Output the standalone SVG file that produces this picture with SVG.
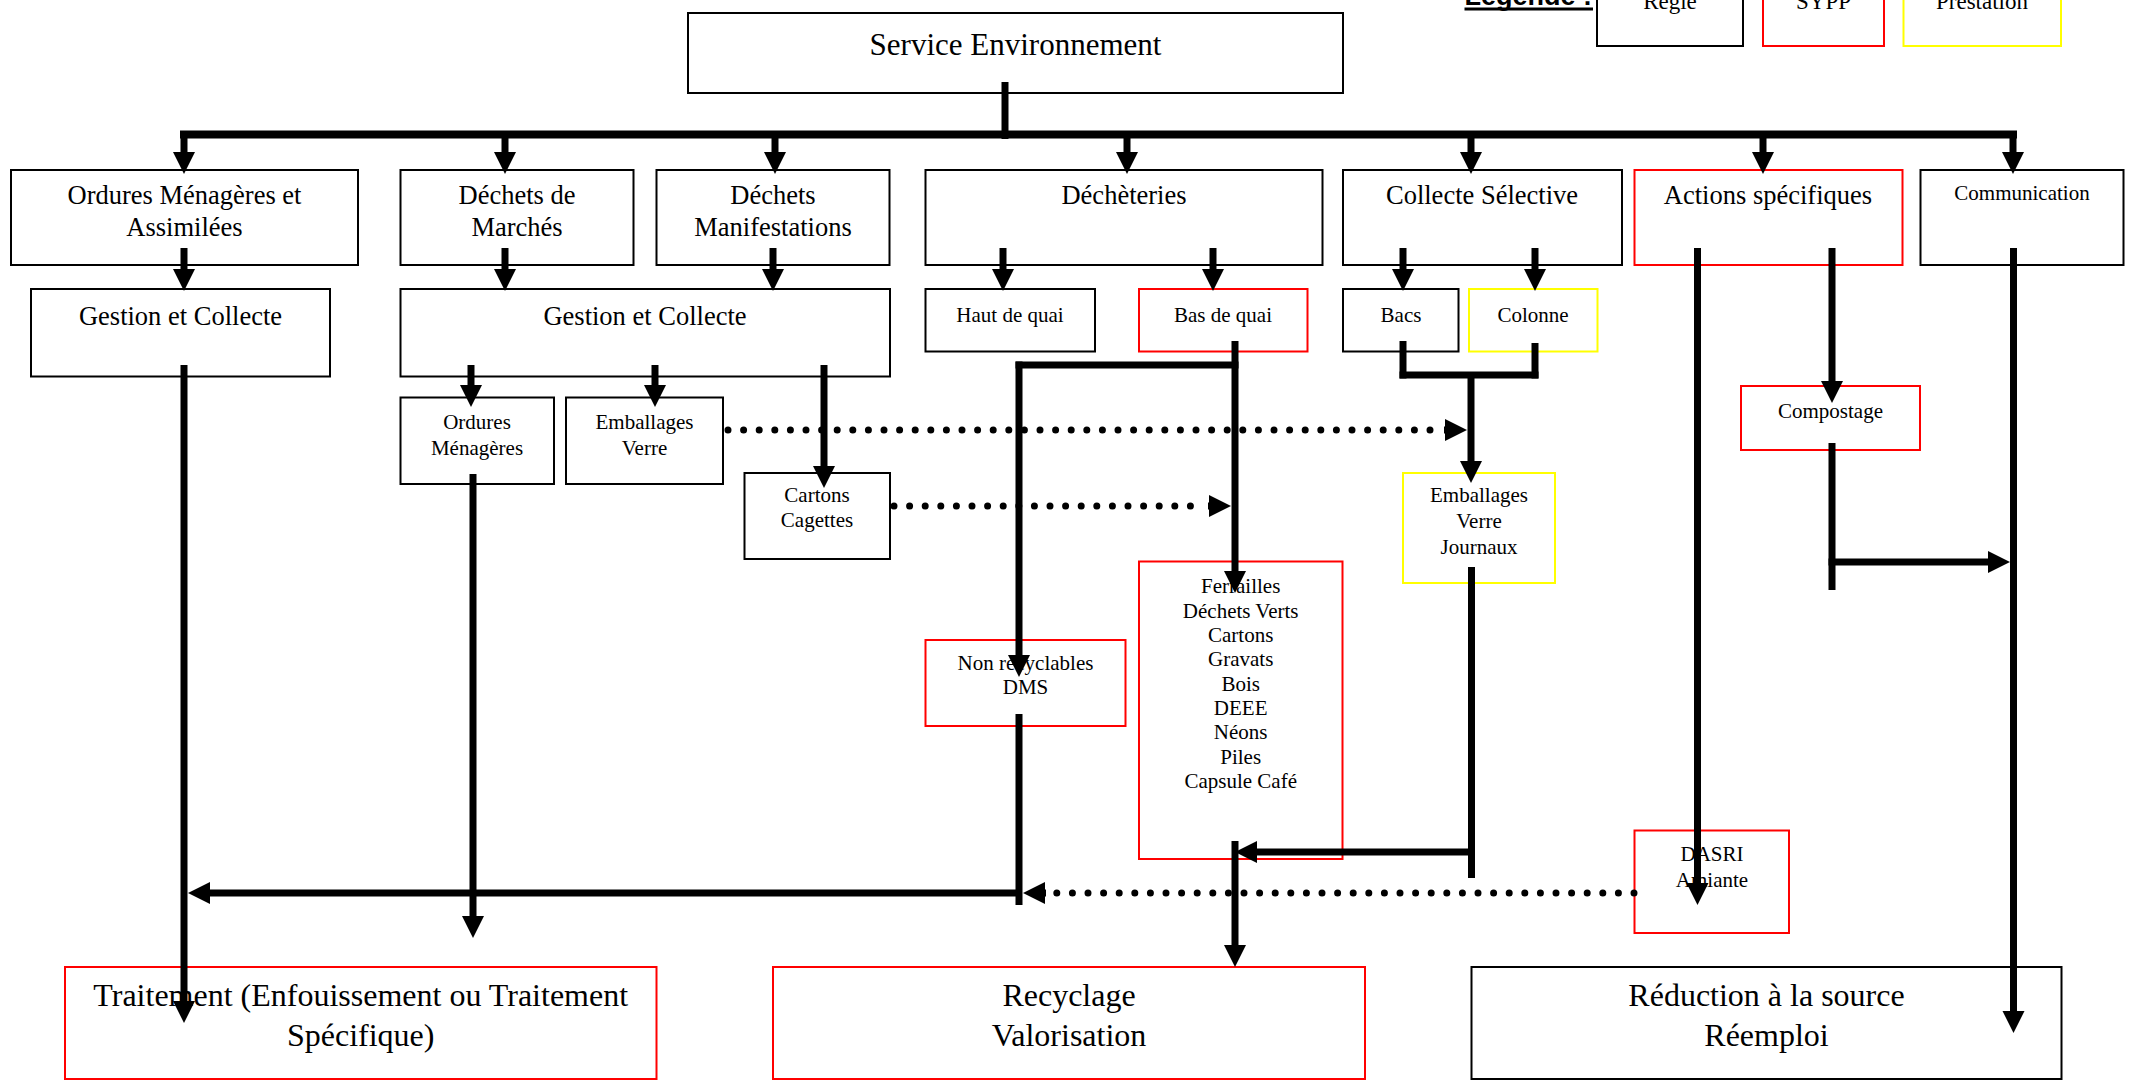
<svg xmlns="http://www.w3.org/2000/svg" width="2134" height="1088" viewBox="0 0 2134 1088">
<style>
text{font-family:"Liberation Serif","Times New Roman",serif;fill:#000;text-anchor:middle}
.b rect{fill:#fff;stroke-width:2}
.k{stroke:#000}
.r{stroke:#ff0000}
.y{stroke:#ffff00}
.t31{font-size:31px}
.t32{font-size:32px}
.t26{font-size:26.5px}
.t21{font-size:21px}
.t23{font-size:23px}
.c line,.c path{stroke:#000;stroke-width:7;fill:none}
.c .bus{stroke-width:8}
.c .dot{stroke-dasharray:0 15.6;stroke-linecap:round}
</style>
<defs>
<marker id="ah" markerUnits="userSpaceOnUse" markerWidth="22" markerHeight="22" refX="0" refY="11" orient="auto" overflow="visible">
<path d="M0,0 L22,11 L0,22 z" fill="#000"/>
</marker>
</defs>

<g id="legende">
<text x="1464.5" y="5" style="font-family:'Liberation Sans',Arial,sans-serif;font-weight:bold;font-size:27px;text-anchor:start">Légende :</text>
<rect x="1464.5" y="7.5" width="128.5" height="3" fill="#000"/>
</g>
<g id="leg-regie" class="b"><rect class="k" x="1597" y="-10" width="146" height="56"/><text class="t23" x="1670" y="9">Régie</text></g>
<g id="leg-sypp" class="b"><rect class="r" x="1763" y="-10" width="121" height="56"/><text class="t23" x="1823.5" y="9">SYPP</text></g>
<g id="leg-prestation" class="b"><rect class="y" x="1903.5" y="-10" width="157.5" height="56"/><text class="t23" x="1982" y="9">Prestation</text></g>

<g id="service" class="b"><rect class="k" x="688" y="13" width="655" height="80"/><text class="t31" x="1015.5" y="55">Service Environnement</text></g>

<g id="ordures" class="b"><rect class="k" x="11" y="170" width="347" height="95"/><text class="t26" x="184.5" y="204">Ordures Ménagères et</text><text class="t26" x="184.5" y="236">Assimilées</text></g>
<g id="dechets-marches" class="b"><rect class="k" x="400.5" y="170" width="233" height="95"/><text class="t26" x="517" y="204">Déchets de</text><text class="t26" x="517" y="236">Marchés</text></g>
<g id="dechets-manif" class="b"><rect class="k" x="656.5" y="170" width="233" height="95"/><text class="t26" x="773" y="204">Déchets</text><text class="t26" x="773" y="236">Manifestations</text></g>
<g id="decheteries" class="b"><rect class="k" x="925.5" y="170" width="397" height="95"/><text class="t26" x="1124" y="204">Déchèteries</text></g>
<g id="collecte-selective" class="b"><rect class="k" x="1343" y="170" width="279" height="95"/><text class="t26" x="1482" y="204">Collecte Sélective</text></g>
<g id="actions" class="b"><rect class="r" x="1634.5" y="170" width="268" height="95"/><text class="t26" x="1768" y="204">Actions spécifiques</text></g>
<g id="communication" class="b"><rect class="k" x="1920.5" y="170" width="203" height="95"/><text class="t21" x="2022" y="200">Communication</text></g>

<g id="gestion1" class="b"><rect class="k" x="31" y="289" width="299" height="87.5"/><text class="t26" x="180.5" y="325">Gestion et Collecte</text></g>
<g id="gestion2" class="b"><rect class="k" x="400.5" y="289" width="489.5" height="87.5"/><text class="t26" x="645" y="325">Gestion et Collecte</text></g>
<g id="haut-quai" class="b"><rect class="k" x="925.5" y="289" width="169.5" height="62.5"/><text class="t21" x="1010" y="322">Haut de quai</text></g>
<g id="bas-quai" class="b"><rect class="r" x="1139" y="289" width="168.5" height="62.5"/><text class="t21" x="1223" y="322">Bas de quai</text></g>
<g id="bacs" class="b"><rect class="k" x="1343" y="289" width="115.5" height="62.5"/><text class="t21" x="1401" y="322">Bacs</text></g>
<g id="colonne" class="b"><rect class="y" x="1469" y="289" width="128.5" height="62.5"/><text class="t21" x="1533" y="322">Colonne</text></g>

<g id="om" class="b"><rect class="k" x="400.5" y="397.5" width="153.5" height="86.5"/><text class="t21" x="477" y="429">Ordures</text><text class="t21" x="477" y="455">Ménagères</text></g>
<g id="emb-verre" class="b"><rect class="k" x="566" y="397.5" width="157" height="86.5"/><text class="t21" x="644.5" y="429">Emballages</text><text class="t21" x="644.5" y="455">Verre</text></g>
<g id="cartons" class="b"><rect class="k" x="744.5" y="473" width="145.5" height="86"/><text class="t21" x="817" y="502">Cartons</text><text class="t21" x="817" y="527">Cagettes</text></g>
<g id="compostage" class="b"><rect class="r" x="1741" y="386" width="179" height="64"/><text class="t21" x="1830.5" y="418">Compostage</text></g>
<g id="emb-journaux" class="b"><rect class="y" x="1403" y="473" width="152" height="110"/><text class="t21" x="1479" y="502">Emballages</text><text class="t21" x="1479" y="528">Verre</text><text class="t21" x="1479" y="554">Journaux</text></g>
<g id="non-recyclables" class="b"><rect class="r" x="925.5" y="640" width="200" height="86"/><text class="t21" x="1025.5" y="670">Non recyclables</text><text class="t21" x="1025.5" y="694">DMS</text></g>
<g id="bas-quai-liste" class="b"><rect class="r" x="1139" y="561.5" width="203.5" height="297.5"/>
<text class="t21" x="1240.7" y="593">Ferrailles</text>
<text class="t21" x="1240.7" y="617.5">Déchets Verts</text>
<text class="t21" x="1240.7" y="642">Cartons</text>
<text class="t21" x="1240.7" y="666">Gravats</text>
<text class="t21" x="1240.7" y="690.5">Bois</text>
<text class="t21" x="1240.7" y="715">DEEE</text>
<text class="t21" x="1240.7" y="739">Néons</text>
<text class="t21" x="1240.7" y="764">Piles</text>
<text class="t21" x="1240.7" y="788">Capsule Café</text>
</g>
<g id="dasri" class="b"><rect class="r" x="1634.5" y="830.5" width="154.5" height="102.5"/><text class="t21" x="1712" y="861">DASRI</text><text class="t21" x="1712" y="887">Amiante</text></g>

<g id="traitement" class="b"><rect class="r" x="65" y="967" width="591.5" height="112"/><text class="t32" x="360.7" y="1006">Traitement (Enfouissement ou Traitement</text><text class="t32" x="360.7" y="1046">Spécifique)</text></g>
<g id="recyclage" class="b"><rect class="r" x="773" y="967" width="592" height="112"/><text class="t32" x="1069" y="1006">Recyclage</text><text class="t32" x="1069" y="1046">Valorisation</text></g>
<g id="reduction" class="b"><rect class="k" x="1471.5" y="967" width="590" height="112"/><text class="t32" x="1766.5" y="1006">Réduction à la source</text><text class="t32" x="1766.5" y="1046">Réemploi</text></g>

<g id="connecteurs" class="c">
<line x1="1005" y1="82" x2="1005" y2="139"/>
<line class="bus" x1="180" y1="134.5" x2="2017" y2="134.5"/>
<line x1="184" y1="134" x2="184" y2="152" marker-end="url(#ah)"/>
<line x1="505" y1="134" x2="505" y2="152" marker-end="url(#ah)"/>
<line x1="775" y1="134" x2="775" y2="152" marker-end="url(#ah)"/>
<line x1="1127" y1="134" x2="1127" y2="152" marker-end="url(#ah)"/>
<line x1="1471" y1="134" x2="1471" y2="152" marker-end="url(#ah)"/>
<line x1="1763" y1="134" x2="1763" y2="152" marker-end="url(#ah)"/>
<line x1="2013" y1="134" x2="2013" y2="152" marker-end="url(#ah)"/>

<line x1="184" y1="248" x2="184" y2="269" marker-end="url(#ah)"/>
<line x1="505" y1="248" x2="505" y2="269" marker-end="url(#ah)"/>
<line x1="773" y1="248" x2="773" y2="269" marker-end="url(#ah)"/>
<line x1="1003" y1="248" x2="1003" y2="269" marker-end="url(#ah)"/>
<line x1="1213" y1="248" x2="1213" y2="269" marker-end="url(#ah)"/>
<line x1="1403" y1="248" x2="1403" y2="269" marker-end="url(#ah)"/>
<line x1="1535" y1="248" x2="1535" y2="269" marker-end="url(#ah)"/>
<line x1="1697.5" y1="248" x2="1697.5" y2="883" marker-end="url(#ah)"/>
<line x1="1832" y1="248" x2="1832" y2="381" marker-end="url(#ah)"/>
<line x1="2013.5" y1="248" x2="2013.5" y2="1011" marker-end="url(#ah)"/>

<line x1="184" y1="365" x2="184" y2="1001" marker-end="url(#ah)"/>
<line x1="471" y1="365" x2="471" y2="385" marker-end="url(#ah)"/>
<line x1="655" y1="365" x2="655" y2="385" marker-end="url(#ah)"/>
<line x1="824" y1="365" x2="824" y2="466" marker-end="url(#ah)"/>
<line x1="473" y1="474" x2="473" y2="916" marker-end="url(#ah)"/>

<line x1="1235" y1="341" x2="1235" y2="571" marker-end="url(#ah)"/>
<line x1="1015.5" y1="365" x2="1238.5" y2="365"/>
<line x1="1019" y1="361.5" x2="1019" y2="655" marker-end="url(#ah)"/>
<line x1="1019" y1="714" x2="1019" y2="905"/>
<line x1="1019" y1="893" x2="210" y2="893" marker-end="url(#ah)"/>
<line class="dot" x1="1634" y1="893" x2="1050" y2="893"/>
<line x1="1046" y1="893" x2="1045" y2="893" marker-end="url(#ah)"/>
<line x1="1235" y1="841" x2="1235" y2="945" marker-end="url(#ah)"/>

<line x1="1403" y1="341" x2="1403" y2="378.5"/>
<line x1="1535" y1="343" x2="1535" y2="378.5"/>
<line x1="1399.5" y1="375" x2="1538.5" y2="375"/>
<line x1="1471" y1="375" x2="1471" y2="461" marker-end="url(#ah)"/>
<line x1="1471.5" y1="567" x2="1471.5" y2="878"/>
<line x1="1475" y1="852" x2="1257" y2="852" marker-end="url(#ah)"/>

<line class="dot" x1="728" y1="430" x2="1440" y2="430"/>
<line x1="1444" y1="430" x2="1445" y2="430" marker-end="url(#ah)"/>
<line class="dot" x1="894" y1="506" x2="1204" y2="506"/>
<line x1="1208" y1="506" x2="1209" y2="506" marker-end="url(#ah)"/>

<line x1="1832" y1="443" x2="1832" y2="590"/>
<line x1="1828.5" y1="562" x2="1988" y2="562" marker-end="url(#ah)"/>
</g>
</svg>
